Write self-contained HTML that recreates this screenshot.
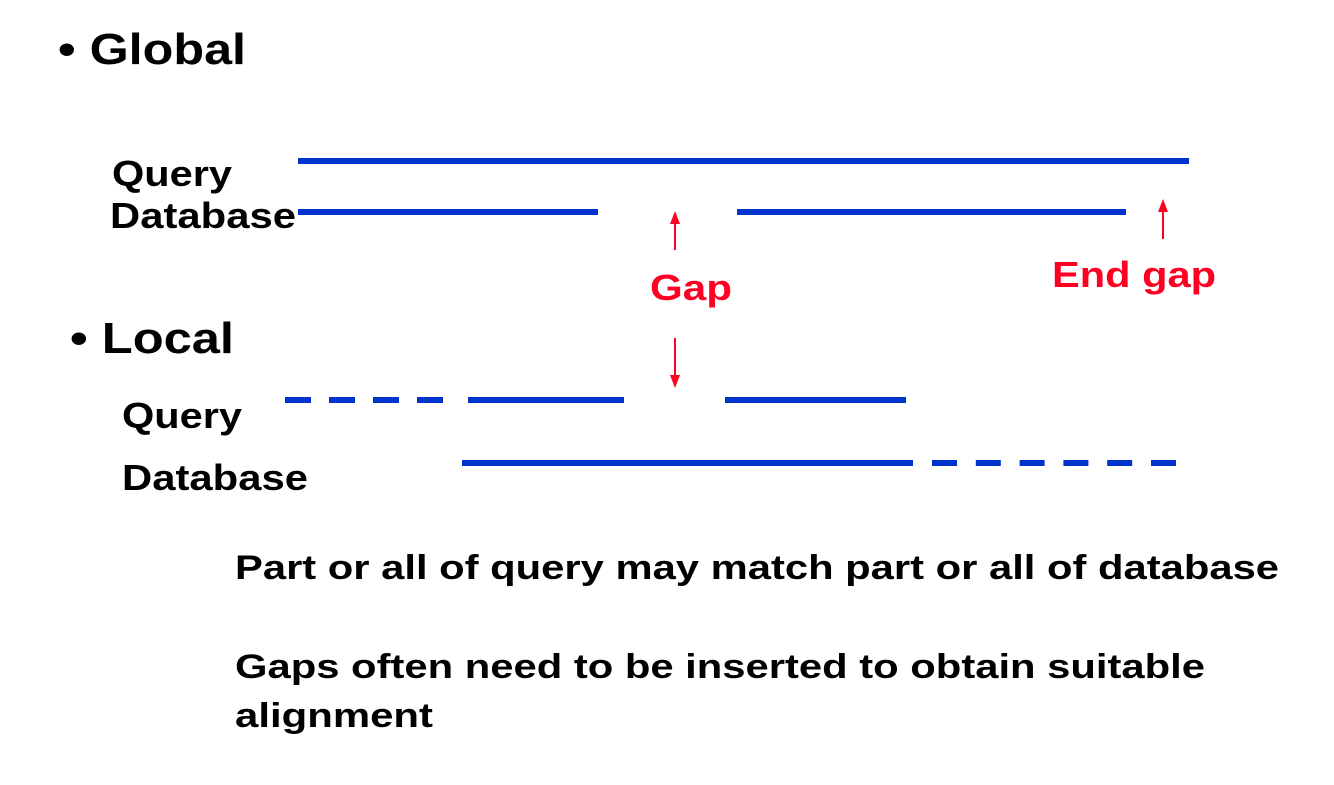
<!DOCTYPE html>
<html><head><meta charset="utf-8"><style>
html,body{margin:0;padding:0;background:#fff;}
svg{display:block;}
text{font-family:"Liberation Sans",Arial,sans-serif;font-weight:bold;}
</style></head><body>
<svg width="1334" height="785" viewBox="0 0 1334 785" xmlns="http://www.w3.org/2000/svg">
<rect width="1334" height="785" fill="#fff"/>
<text x="58" y="64" font-size="44" fill="#000" textLength="188" lengthAdjust="spacingAndGlyphs">• Global</text>
<text x="112" y="186" font-size="36" fill="#000" textLength="120" lengthAdjust="spacingAndGlyphs">Query</text>
<text x="110" y="228" font-size="36" fill="#000" textLength="186" lengthAdjust="spacingAndGlyphs">Database</text>
<g stroke="#0033cc" stroke-width="6" fill="none">
<line x1="298" y1="161" x2="1189" y2="161"/>
<line x1="298" y1="212" x2="598" y2="212"/>
<line x1="737" y1="212" x2="1126" y2="212"/>
<line x1="285" y1="400" x2="443" y2="400" stroke-dasharray="26 18"/>
<line x1="468" y1="400" x2="624" y2="400"/>
<line x1="725" y1="400" x2="906" y2="400"/>
<line x1="462" y1="463" x2="913" y2="463"/>
<line x1="932" y1="463" x2="1177" y2="463" stroke-dasharray="25 18.8"/>
</g>
<g stroke="#ff0022" stroke-width="2" fill="#ff0022">
<line x1="675" y1="222" x2="675" y2="250"/>
<polygon points="675,211 670,224 680,224" stroke="none"/>
<line x1="675" y1="338" x2="675" y2="376"/>
<polygon points="675,388 670,375 680,375" stroke="none"/>
<line x1="1163" y1="210" x2="1163" y2="239"/>
<polygon points="1163,199 1158,212 1168,212" stroke="none"/>
</g>
<text x="650" y="300" font-size="36" fill="#ff0022" textLength="82" lengthAdjust="spacingAndGlyphs">Gap</text>
<text x="1052" y="287" font-size="36" fill="#ff0022" textLength="164" lengthAdjust="spacingAndGlyphs">End gap</text>
<text x="70" y="353" font-size="44" fill="#000" textLength="164" lengthAdjust="spacingAndGlyphs">• Local</text>
<text x="122" y="428" font-size="36" fill="#000" textLength="120" lengthAdjust="spacingAndGlyphs">Query</text>
<text x="122" y="490" font-size="36" fill="#000" textLength="186" lengthAdjust="spacingAndGlyphs">Database</text>
<text x="235" y="579" font-size="34" fill="#000" textLength="1044" lengthAdjust="spacingAndGlyphs">Part or all of query may match part or all of database</text>
<text x="235" y="678" font-size="34" fill="#000" textLength="970" lengthAdjust="spacingAndGlyphs">Gaps often need to be inserted to obtain suitable</text>
<text x="235" y="727" font-size="34" fill="#000" textLength="198" lengthAdjust="spacingAndGlyphs">alignment</text>
</svg>
</body></html>
